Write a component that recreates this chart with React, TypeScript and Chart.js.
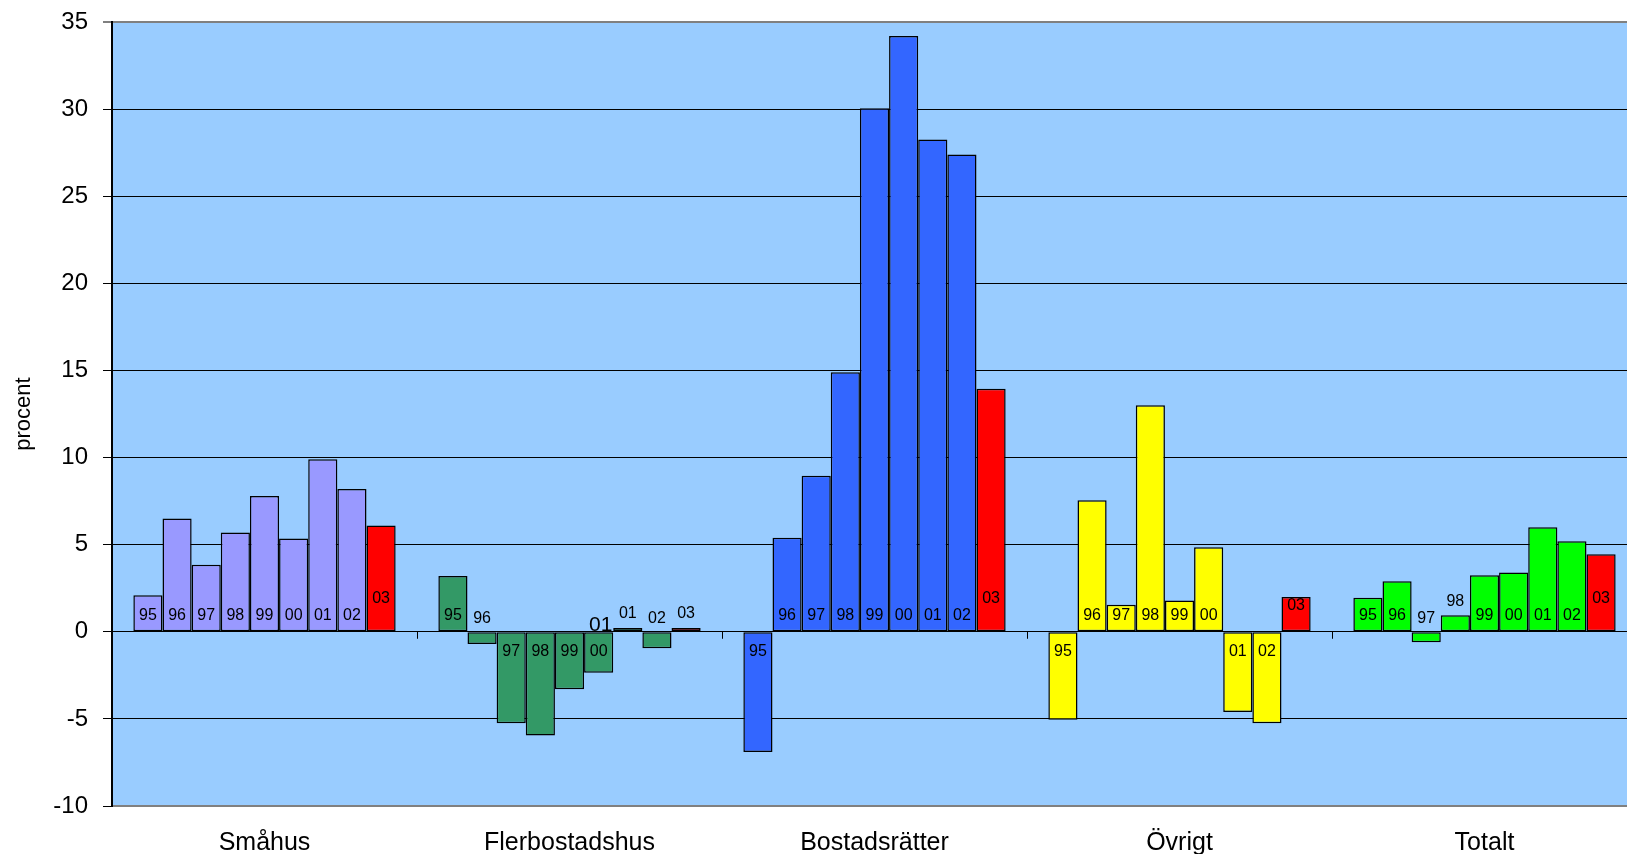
import React, { useEffect, useRef } from 'react';
import { Chart, registerables } from 'chart.js';

Chart.register(...registerables);

const categories = ['Småhus', 'Flerbostadshus', 'Bostadsrätter', 'Övrigt', 'Totalt'];
const years = ['95', '96', '97', '98', '99', '00', '01', '02', '03'];
const smahus = [2.1, 6.5, 3.85, 5.7, 7.8, 5.35, 9.9, 8.2, 6.1];
const flerbostadshus = [3.2, -0.7, -5.25, -5.95, -3.3, -2.35, 0.22, -0.95, 0.22];
const bostadsratter = [-6.9, 5.4, 8.95, 14.9, 30.05, 34.2, 28.25, 27.4, 13.95];
const ovrigt = [-5.05, 7.55, 1.55, 13.0, 1.8, 4.85, -4.6, -5.25, 2.0];
const totalt = [1.95, 2.9, -0.6, 0.95, 3.25, 3.4, 6.0, 5.2, 4.45];
const yTicks = [-10, -5, 0, 5, 10, 15, 20, 25, 30, 35];
const categoryColors = ['#9999FF', '#339966', '#3366FF', '#FFFF00', '#00FF00'];
const latestColor = '#FF0000';
// a stray extra text label that sits over the "00" bar of Flerbostadshus
const strayLabel = { category: 1, year: 5, text: '01' };

const FONT = "'Liberation Sans', Arial, sans-serif";

const seriesByCategory = [smahus, flerbostadshus, bostadsratter, ovrigt, totalt];

const backgroundPlugin = {
  id: 'plotBackground',
  beforeDraw(chart: any) {
    const { ctx, chartArea } = chart;
    if (!chartArea) return;
    ctx.save();
    ctx.fillStyle = '#99CCFF';
    ctx.fillRect(chartArea.left, chartArea.top, chartArea.right - chartArea.left, chartArea.bottom - chartArea.top);
    ctx.restore();
  },
};

const categoryTickPlugin = {
  id: 'categoryTicks',
  afterDatasetsDraw(chart: any) {
    const { ctx } = chart;
    const xs = chart.scales.x;
    const ys = chart.scales.y;
    const zero = ys.getPixelForValue(0);
    ctx.save();
    ctx.strokeStyle = '#000';
    ctx.lineWidth = 1;
    for (let i = 1; i < categories.length; i++) {
      const xb = Math.round((xs.getPixelForValue(i - 1) + xs.getPixelForValue(i)) / 2) + 0.5;
      ctx.beginPath();
      ctx.moveTo(xb, zero);
      ctx.lineTo(xb, zero + 7);
      ctx.stroke();
    }
    ctx.restore();
  },
};

const barLabelPlugin = {
  id: 'barLabels',
  afterDatasetsDraw(chart: any) {
    const { ctx } = chart;
    const ys = chart.scales.y;
    const zero = ys.getPixelForValue(0);
    ctx.save();
    ctx.fillStyle = '#000';
    ctx.textAlign = 'center';
    ctx.textBaseline = 'middle';
    ctx.font = `16px ${FONT}`;
    chart.data.datasets.forEach((ds: any, di: number) => {
      const meta = chart.getDatasetMeta(di);
      meta.data.forEach((el: any, ci: number) => {
        const v = ds.data[ci];
        const top = Math.min(el.y, el.base);
        let y: number;
        if (v > 0 && v < 1.3) {
          y = top - 14;
        } else if (di === years.length - 1 && v > 0) {
          y = Math.max(zero - 33, top + 9);
        } else if (v >= 1.3) {
          y = zero - 16;
        } else if (v > -1.3) {
          y = zero - 13;
        } else {
          y = zero + 20;
        }
        ctx.fillText(ds.label, el.x, y);
      });
    });
    const el = chart.getDatasetMeta(strayLabel.year).data[strayLabel.category];
    if (el) {
      ctx.font = `21px ${FONT}`;
      ctx.textBaseline = 'alphabetic';
      ctx.fillText(strayLabel.text, el.x + 2, zero - 1);
    }
    ctx.restore();
  },
};

export default function App() {
  const ref = useRef<HTMLCanvasElement | null>(null);

  useEffect(() => {
    if (!ref.current) return;
    const datasets = years.map((yr, j) => ({
      label: yr,
      data: seriesByCategory.map((s) => s[j]),
      backgroundColor: j === years.length - 1 ? latestColor : categoryColors,
      borderColor: '#000',
      borderWidth: 1.5,
      borderSkipped: false,
      categoryPercentage: 0.86,
      barPercentage: 1.0,
    }));

    const chart = new Chart(ref.current, {
      type: 'bar',
      data: { labels: categories, datasets },
      options: {
        animation: false,
        responsive: true,
        maintainAspectRatio: false,
        layout: { padding: { top: 22, right: 3, left: 0, bottom: 0 } },
        plugins: {
          legend: { display: false },
          tooltip: { enabled: false },
        },
        scales: {
          x: {
            grid: { display: false, drawTicks: false },
            border: { display: true, color: '#808080', width: 2 },
            ticks: {
              color: '#000',
              font: { family: FONT, size: 25 },
              padding: 22,
              maxRotation: 0,
              autoSkip: false,
            },
            afterFit(scale: any) {
              scale.height = 48;
            },
          },
          y: {
            min: -10,
            max: 35,
            afterBuildTicks(scale: any) {
              scale.ticks = yTicks.map((v) => ({ value: v }));
            },
            grid: {
              color: (c: any) => (c.tick && c.tick.value === 35 ? '#808080' : '#000'),
              lineWidth: (c: any) => (c.tick && c.tick.value === 35 ? 2 : 1),
              tickLength: 9,
            },
            border: { display: true, color: '#000', width: 2 },
            ticks: {
              color: '#000',
              font: { family: FONT, size: 24 },
              padding: 15,
            },
            title: {
              display: true,
              text: 'procent',
              color: '#000',
              font: { family: FONT, size: 22 },
              padding: { top: 11, bottom: 0 },
            },
            afterFit(scale: any) {
              scale.width = 112;
              scale.paddingTop = 0;
              scale.paddingBottom = 0;
            },
          },
        },
      },
      plugins: [backgroundPlugin, categoryTickPlugin, barLabelPlugin],
    });
    return () => chart.destroy();
  }, []);

  return (
    <div style={{ position: 'fixed', left: 0, top: 0, width: 1627, height: 854, overflow: 'hidden', background: '#fff' }}>
      <div style={{ position: 'relative', width: 1640, height: 854 }}>
        <canvas ref={ref} />
      </div>
    </div>
  );
}
